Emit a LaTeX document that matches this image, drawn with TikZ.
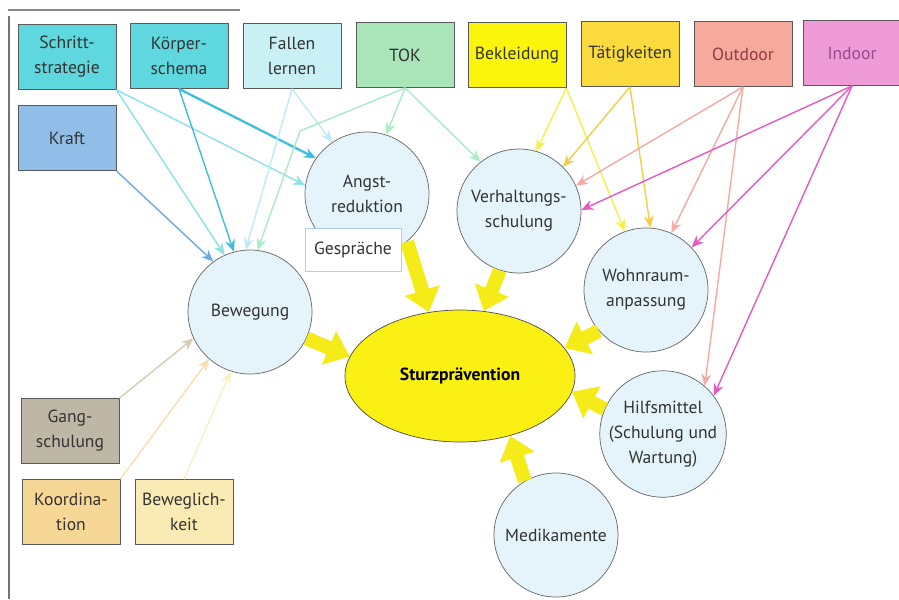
\documentclass[tikz,border=0pt]{standalone}
\usepackage{fontspec}
\setmainfont{PT Sans}
\usetikzlibrary{arrows.meta,shapes.geometric}
\definecolor{schrittc}{RGB}{95,215,222}
\definecolor{fallenc}{RGB}{200,240,245}
\definecolor{tokc}{RGB}{170,228,185}
\definecolor{bekc}{RGB}{250,245,10}
\definecolor{taetc}{RGB}{250,218,60}
\definecolor{outc}{RGB}{245,170,155}
\definecolor{inc}{RGB}{238,155,215}
\definecolor{kraftc}{RGB}{145,190,232}
\definecolor{gangc}{RGB}{190,183,165}
\definecolor{koordc}{RGB}{247,215,150}
\definecolor{bewegc}{RGB}{250,235,180}
\definecolor{circblue}{RGB}{228,244,250}
\definecolor{sturzyellow}{RGB}{250,240,20}
\definecolor{arrowyellow}{RGB}{245,235,25}
\definecolor{kraftline}{RGB}{110,170,225}
\definecolor{schrittline}{RGB}{140,225,230}
\definecolor{koerperline}{RGB}{60,190,220}
\definecolor{fallenline}{RGB}{190,235,245}
\definecolor{tokline}{RGB}{170,235,200}
\definecolor{bekline}{RGB}{245,240,70}
\definecolor{taetline}{RGB}{245,205,70}
\definecolor{outdline}{RGB}{245,170,165}
\definecolor{indline}{RGB}{230,90,195}
\definecolor{gangline}{RGB}{215,205,180}
\definecolor{koordline}{RGB}{250,222,175}
\definecolor{beweglline}{RGB}{250,240,195}
\definecolor{gesprline}{RGB}{170,210,230}
\definecolor{outtext}{RGB}{150,55,70}
\definecolor{intext}{RGB}{150,75,140}
\tikzset{>/.tip={Stealth[length=2.4mm,width=2mm]},
  every node/.style={font=\fontsize{10}{14.2}\selectfont, text=black!80},
  box/.style={draw=black!65, minimum width=1.96cm, minimum height=1.3cm, align=center, inner sep=1pt},
  circ/.style={circle, draw=black!60, fill=circblue, minimum size=2.48cm, align=center, inner sep=0pt},
  thin/.style={->, line width=0.8pt},
  fat/.style={-{Triangle[width=7mm,length=4.5mm]}, line width=2.8mm, draw=arrowyellow}}

\begin{document}
\begin{tikzpicture}[x=0.2mm, y=-0.2mm]
\useasboundingbox (0,0) rectangle (899,599);
\fill[white] (0,0) rectangle (899,599);
\draw[black!55, line width=0.6pt] (9,16) -- (9,599);
\draw[black!45, line width=0.8pt] (8,10) -- (240,10);
% boxes
\node[box, fill=schrittc] (schritt) at (67,57)  {Schritt-\\strategie};
\node[box, fill=schrittc] (koerper) at (179,56) {Körper-\\schema};
\node[box, fill=fallenc]  (fallen)  at (292,56) {Fallen\\lernen};
\node[box, fill=tokc]     (tok)     at (405,55) {TOK};
\node[box, fill=bekc]     (bekleidung) at (517,55) {Bekleidung};
\node[box, fill=taetc]    (taetig)  at (630,54) {Tätigkeiten};
\node[box, fill=outc, text=outtext] (outdoor) at (743,54) {Outdoor};
\node[box, fill=inc, text=intext]   (indoor)  at (852,53) {Indoor};
\node[box, fill=kraftc]   (kraft)   at (67,138) {Kraft};
\node[box, fill=gangc]    (gang)    at (70,431) {Gang-\\schulung};
\node[box, fill=koordc]   (koord)   at (71,512) {Koordina-\\tion};
\node[box, fill=bewegc]   (beweg)   at (184,512) {Beweglich-\\keit};
% circles
\node[circ] (bew)   at (250,312) {Bewegung};
\node[circ] (angst) at (367,194) {Angst-\\reduktion};
\node[circ] (verh)  at (519,211) {Verhaltungs-\\schulung};
\node[circ] (wohn)  at (646,290) {Wohnraum-\\anpassung};
\node[circ] (hilf)  at (663,434) {Hilfsmittel\\(Schulung und\\Wartung)};
\node[circ] (medi)  at (556,535) {Medikamente};
\node[ellipse, draw=black!70, fill=sturzyellow, minimum width=4.6cm, minimum height=2.64cm,
  font=\fontsize{10}{14.2}\selectfont\bfseries, text=black] (sturz) at (460,376) {Sturzprävention};
% thin arrows
\draw[thin, draw=kraftline] (kraft.south east) -- (bew.126);
\foreach \t in {bew.114, angst.172}
  \draw[thin, draw=schrittline] (schritt.south east) -- (\t);
\draw[thin, draw=koerperline] (koerper.south) -- (bew.105);
\draw[thin, draw=koerperline, line width=1.3pt] (koerper.south) -- (angst.145);
\foreach \t in {bew.94, angst.124}
  \draw[thin, draw=fallenline] (fallen.south) -- (\t);
\coordinate (tokknick) at (300,131);
\draw[thin, draw=tokline] (tok.south) -- (tokknick) -- (bew.83);
\foreach \t in {angst.72, verh.128}
  \draw[thin, draw=tokline] (tok.south) -- (\t);
\foreach \t in {verh.74, wohn.110}
  \draw[thin, draw=bekline] (bekleidung.south east) -- (\t);
\foreach \t in {verh.45, wohn.86}
  \draw[thin, draw=taetline] (taetig.south) -- (\t);
\foreach \t in {verh.24, wohn.66, hilf.49}
  \draw[thin, draw=outdline] (outdoor.south) -- (\t);
\foreach \t in {verh.1, wohn.43, hilf.37}
  \draw[thin, draw=indline] (indoor.south) -- (\t);
\draw[thin, draw=gangline] (gang.north east) -- (bew.205);
\draw[thin, draw=koordline] (koord.north east) -- (bew.229);
\draw[thin, draw=beweglline] (beweg.north) -- (bew.252);
% big arrows
\draw[fat] (bew.-25) -- (sturz.170);
\draw[fat] (angst.-50) -- (sturz.116);
\draw[fat] (verh.-108) -- (sturz.70);
\draw[fat] (wohn.221) -- (sturz.15);
\draw[fat] (hilf.157) -- (sturz.-8);
\draw[fat] (medi.120) -- (sturz.-50);
\node[draw=gesprline, fill=white, minimum width=1.92cm, minimum height=0.86cm] (gespr) at (353,250) {Gespräche};
\end{tikzpicture}
\end{document}
